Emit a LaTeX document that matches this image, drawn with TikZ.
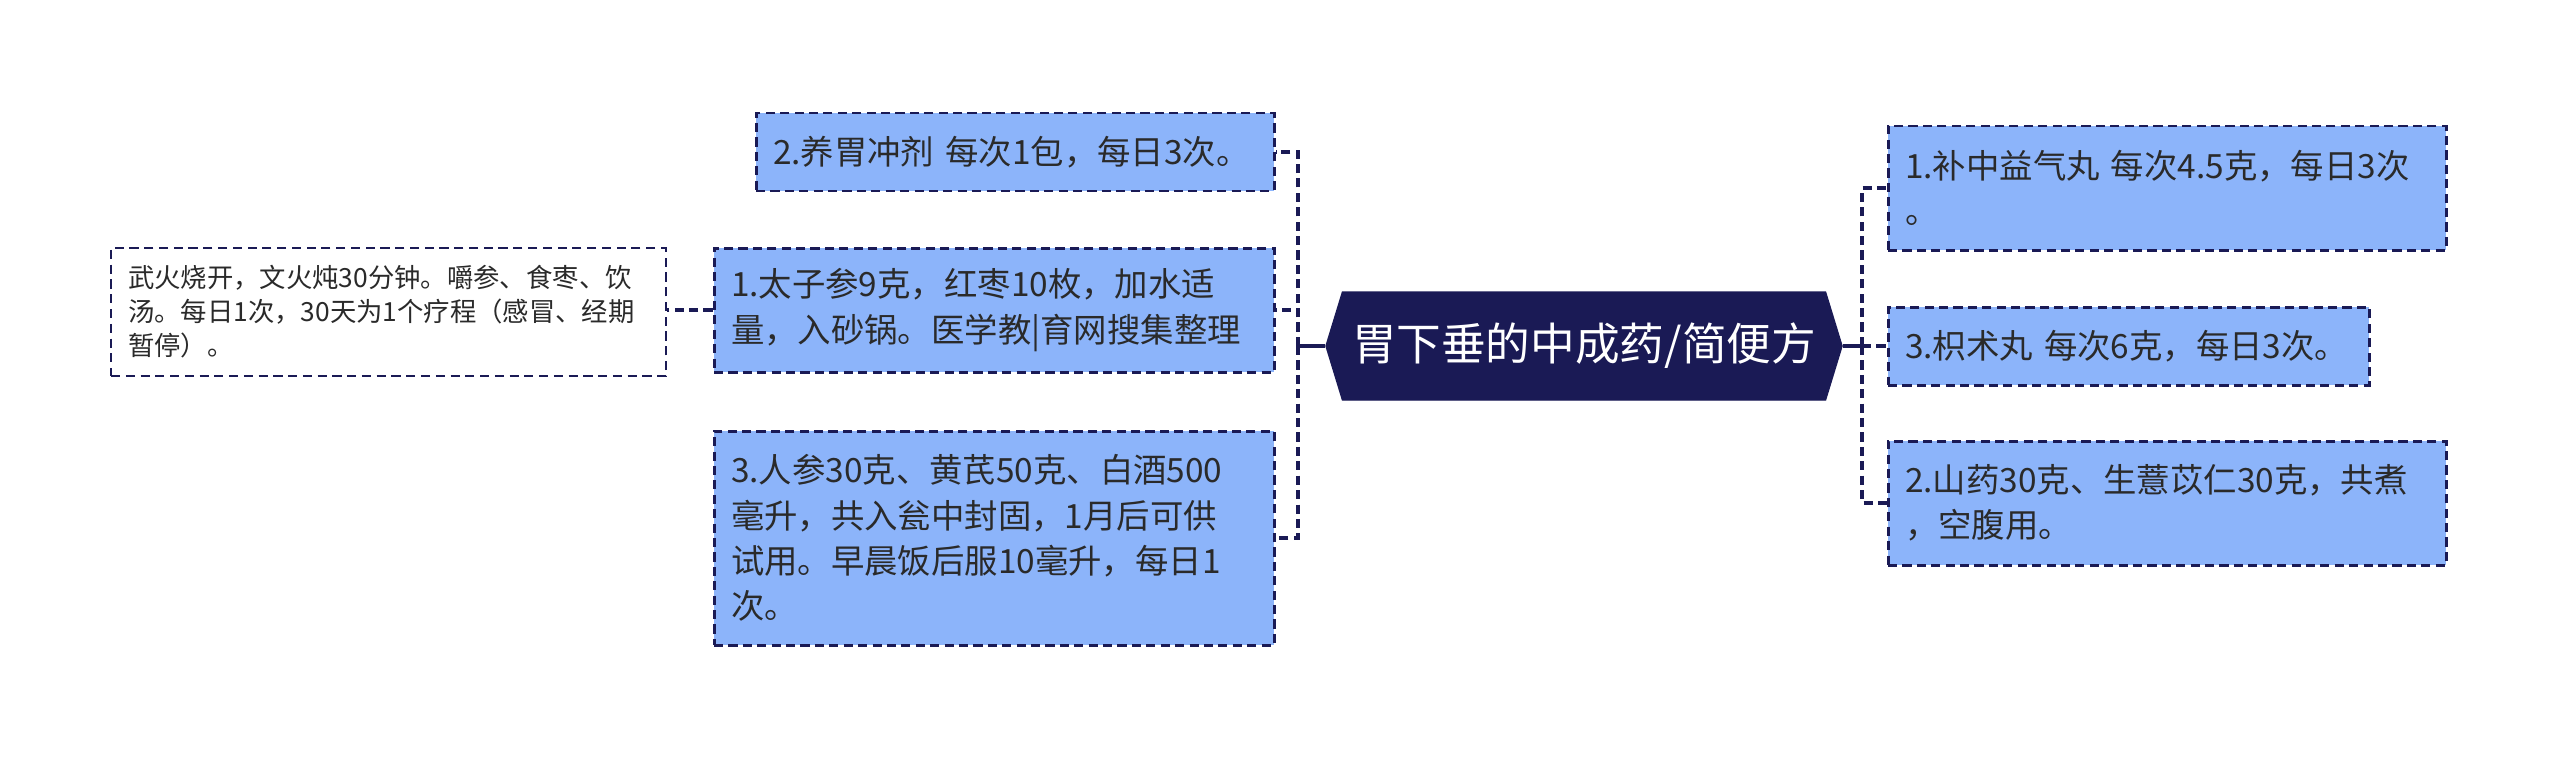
\documentclass[tikz,border=0pt]{standalone}
\usepackage{fontspec}
\setmainfont{Noto Sans CJK SC}
\usepackage{tikz}
\usepackage{xcolor}
\usetikzlibrary{positioning,shapes.symbols,calc}
\definecolor{navy}{HTML}{1A1A55}
\definecolor{boxfill}{HTML}{8CB4FA}
\definecolor{textgray}{HTML}{2A2A2A}
\tikzset{
  medbox/.style={draw=navy,fill=boxfill,line width=0.85pt,
                 dash pattern=on 2.6pt off 1.5pt,align=left,inner xsep=0.17cm,
                 inner ysep=2pt,text=textgray,
                 font=\fontsize{9.5}{12.9}\selectfont},
  notebox/.style={draw=navy,fill=white,line width=0.7pt,
                  dash pattern=on 2.6pt off 1.6pt,align=left,inner xsep=0.17cm,
                  inner ysep=2pt,text=textgray,
                  font=\fontsize{7.5}{9.7}\selectfont},
  hubbox/.style={shape=signal,signal to=west and east,signal pointer angle=146,
                 fill=navy,draw=navy,text=white,inner sep=0pt,
                 font=\fontsize{12.7}{14}\selectfont},
  stem/.style={draw=navy,line width=1.2pt},
  link/.style={draw=navy,line width=1.1pt,dash pattern=on 2.6pt off 1.5pt}
}
\begin{document}
\begin{tikzpicture}[x=1cm,y=1cm]
    \fill[white] (0,0) rectangle (25.6,-7.59);
    \path[use as bounding box] (0,0) rectangle (25.6,-7.59);
    % centre
    \node[hubbox,minimum width=5.16cm,minimum height=1.08cm] (hub) at (15.84,-3.46)
      {胃下垂的中成药/简便方};
    \coordinate (ltrunk) at (12.98,-3.46);
    \coordinate (rtrunk) at (18.62,-3.46);
    % left branch
    \node[medbox,text width=4.84cm,minimum height=0.78cm] (l2) at (10.15,-1.52)
      {2.养胃冲剂 每次1包，每日3次。};
    \node[medbox,text width=5.26cm,minimum height=1.24cm] (l1) at (9.94,-3.10)
      {1.太子参9克，红枣10枚，加水适\\量，入砂锅。医学教|育网搜集整理};
    \node[medbox,text width=5.26cm,minimum height=2.14cm] (l3) at (9.94,-5.38)
      {3.人参30克、黄芪50克、白酒500\\毫升，共入瓮中封固，1月后可供\\试用。早晨饭后服10毫升，每日1\\次。};
    \node[notebox,text width=5.21cm,minimum height=1.28cm] (note) at (3.885,-3.12)
      {武火烧开，文火炖30分钟。嚼参、食枣、饮\\汤。每日1次，30天为1个疗程（感冒、经期\\暂停）。};
    % right branch
    \node[medbox,text width=5.24cm,minimum height=1.24cm] (r1) at (21.67,-1.88)
      {1.补中益气丸 每次4.5克，每日3次\\。};
    \node[medbox,text width=4.47cm,minimum height=0.78cm] (r3) at (21.285,-3.46)
      {3.枳术丸 每次6克，每日3次。};
    \node[medbox,text width=5.24cm,minimum height=1.24cm] (r2) at (21.67,-5.03)
      {2.山药30克、生薏苡仁30克，共煮\\，空腹用。};
    % connectors
    \draw[stem] (hub.west) -- (ltrunk);
    \draw[stem] (hub.east) -- (rtrunk);
    \draw[link] (ltrunk) |- (l2.east);
    \draw[link] (ltrunk) |- (l1.east);
    \draw[link] (ltrunk) |- (l3.east);
    \draw[link] (rtrunk) |- (r1.west);
    \draw[link] (rtrunk) -- (r3.west);
    \draw[link] (rtrunk) |- (r2.west);
    \draw[link] (l1.west) -- (note.east |- l1.west);
  \end{tikzpicture}
\end{document}
